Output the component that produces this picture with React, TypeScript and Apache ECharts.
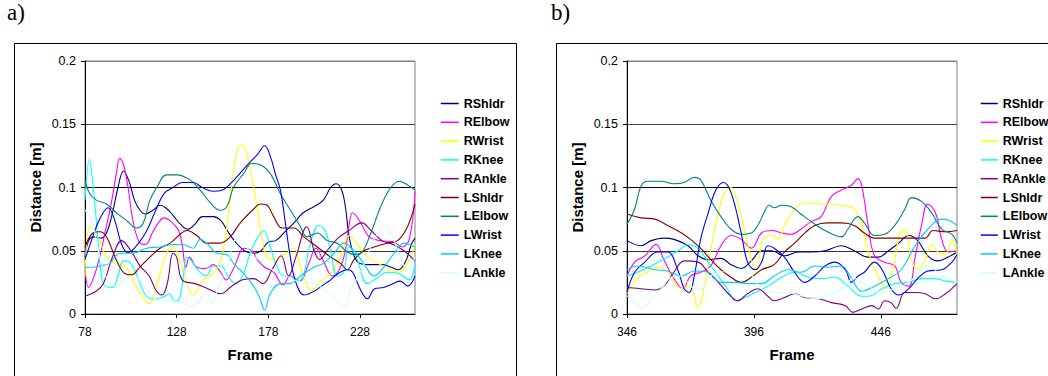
import React, { useEffect, useRef } from "react";
import * as echarts from "echarts";

// ---------- shared ----------
const SERIES_NAMES = ["RShldr", "RElbow", "RWrist", "RKnee", "RAnkle", "LShldr", "LElbow", "LWrist", "LKnee", "LAnkle"];
const SERIES_COLORS = ["#000080", "#FF00FF", "#FFFF00", "#00FFFF", "#800080", "#800000", "#008080", "#0000FF", "#00CCFF", "#CCFFFF"];
const Y_MIN = 0;
const Y_MAX = 0.2;
const Y_STEP = 0.05;
const X_STEP = 50;
const A_FRAME_MIN = 78;
const A_FRAME_MAX = 258;
const B_FRAME_MIN = 346;
const B_FRAME_MAX = 476;

// ---------- panel a) [frame, distance] ----------
const A_RSHLDR = [[78,0.045],[80,0.058],[83,0.061],[87,0.06],[90,0.065],[93,0.08],[96,0.1],[99,0.113],[102,0.105],[105,0.09],[108,0.082],[111,0.079],[115,0.082],[119,0.086],[122,0.084],[126,0.078],[130,0.071],[134,0.067],[138,0.071],[142,0.077],[148,0.077],[152,0.074],[156,0.065],[160,0.057],[165,0.05],[170,0.048],[174,0.05],[178,0.057],[182,0.058],[187,0.065],[192,0.072],[197,0.08],[203,0.085],[208,0.09],[212,0.1],[215,0.103],[218,0.098],[220,0.085],[222,0.062],[225,0.045],[228,0.04],[234,0.039],[240,0.039],[245,0.037],[249,0.035],[253,0.042],[256,0.055],[258,0.06]];
const A_RELBOW = [[78,0.035],[80,0.021],[83,0.03],[86,0.045],[89,0.065],[92,0.085],[95,0.11],[97,0.123],[99,0.118],[101.5,0.1],[104,0.075],[108,0.056],[111,0.055],[115,0.065],[118,0.072],[121,0.076],[125,0.073],[129,0.066],[131,0.055],[133,0.037],[135,0.045],[139,0.037],[144,0.036],[148,0.039],[152,0.033],[155,0.027],[159,0.036],[165,0.052],[169,0.05],[172,0.043],[176,0.037],[181,0.033],[186,0.023],[190,0.03],[195,0.026],[200,0.04],[204,0.052],[208,0.042],[213,0.03],[217,0.036],[220,0.05],[222,0.07],[224,0.08],[228,0.073],[233,0.061],[239,0.058],[246,0.057],[251,0.053],[255,0.06],[258,0.097]];
const A_RWRIST = [[78,0.03],[80.5,0.069],[83,0.066],[86,0.058],[89.7,0.045],[94,0.04],[99,0.039],[104,0.027],[109,0.014],[113,0.008],[117,0.022],[122.5,0.048],[126,0.053],[129.8,0.043],[133.5,0.024],[137,0.015],[142.6,0.027],[148,0.032],[153,0.048],[157,0.09],[161,0.13],[163.6,0.134],[167,0.122],[171.8,0.085],[175.5,0.053],[179,0.043],[184.6,0.045],[188,0.048],[192,0.052],[195.5,0.037],[200,0.02],[202,0.019],[206.5,0.026],[212,0.032],[217.4,0.045],[222,0.062],[226.6,0.055],[232,0.045],[239.3,0.039],[248.5,0.033],[253.9,0.04],[258,0.055]];
const A_RKNEE = [[78,0.09],[80.4,0.122],[82.5,0.1],[85,0.06],[87,0.03],[89,0.022],[93,0.021],[96,0.03],[99,0.042],[103,0.04],[107,0.028],[111,0.015],[115,0.012],[120,0.013],[124,0.016],[127,0.01],[129.5,0.012],[131.7,0.03],[133.5,0.045],[136,0.042],[140,0.034],[144,0.03],[148,0.038],[152,0.038],[156,0.03],[160,0.024],[164,0.03],[168,0.048],[172,0.06],[175.5,0.066],[179,0.053],[182.8,0.037],[186.4,0.03],[190,0.03],[194,0.026],[197,0.03],[201,0.056],[205.6,0.07],[209,0.066],[212,0.05],[215.6,0.03],[219,0.033],[222,0.053],[226,0.045],[232,0.024],[237,0.028],[243,0.033],[249,0.032],[254.8,0.027],[258,0.04]];
const A_RANKLE = [[78,0.014],[84,0.018],[88,0.024],[93,0.045],[98,0.058],[103,0.05],[108,0.038],[113,0.03],[117,0.018],[120,0.015],[123,0.025],[126,0.048],[128,0.045],[131,0.027],[138,0.024],[145,0.02],[152,0.016],[158,0.022],[164,0.027],[170,0.028],[175,0.024],[180,0.035],[185,0.046],[189,0.03],[193,0.045],[199,0.069],[203,0.05],[206,0.043],[210,0.05],[216,0.06],[222,0.066],[229,0.072],[234,0.066],[240,0.058],[246,0.055],[252,0.05],[258,0.042]];
const A_LSHLDR = [[78,0.053],[82.4,0.064],[86,0.065],[89.7,0.061],[95,0.043],[99.7,0.032],[103.4,0.031],[107.9,0.037],[113.4,0.045],[118.9,0.052],[124.4,0.056],[130.7,0.064],[133.5,0.066],[139,0.062],[144.4,0.056],[151.7,0.056],[157.2,0.061],[162.7,0.072],[170,0.083],[173.6,0.087],[177.3,0.086],[180.9,0.077],[185.5,0.068],[191.9,0.068],[197.4,0.061],[204.7,0.053],[212,0.045],[217.4,0.04],[221.1,0.035],[224.7,0.043],[230.2,0.05],[235.7,0.053],[243,0.056],[248.5,0.058],[253.9,0.069],[258,0.087]];
const A_LELBOW = [[78,0.106],[80.6,0.095],[84.2,0.09],[89.7,0.087],[95.2,0.08],[100.6,0.074],[106.1,0.068],[109.8,0.072],[113.4,0.09],[117.1,0.1],[122.5,0.11],[128,0.11],[135.3,0.106],[140.8,0.098],[148.1,0.085],[151.7,0.082],[155.4,0.085],[159,0.1],[164.5,0.111],[169.1,0.119],[173.6,0.118],[179.1,0.111],[184.6,0.095],[190.1,0.082],[195.5,0.069],[199.2,0.061],[204.7,0.064],[210.1,0.058],[215.6,0.056],[221.1,0.049],[224.7,0.047],[228.4,0.048],[233.9,0.064],[239.3,0.085],[244.8,0.1],[249.4,0.105],[253.9,0.102],[258,0.098]];
const A_LWRIST = [[78,0.043],[82,0.06],[86,0.075],[90.6,0.084],[94,0.075],[98,0.055],[101.5,0.0485],[105,0.052],[111,0.064],[116,0.08],[121,0.095],[126,0.1],[131,0.104],[137,0.104],[142,0.1],[148,0.097],[153,0.098],[158,0.104],[163,0.112],[168,0.12],[172,0.126],[176,0.133],[179,0.125],[182,0.11],[184.6,0.098],[187,0.075],[190,0.045],[193,0.025],[197.5,0.015],[203,0.018],[207,0.022],[212,0.027],[216,0.032],[221,0.035],[224,0.033],[228,0.02],[232,0.012],[236,0.02],[241,0.021],[246,0.024],[250,0.026],[254,0.022],[258,0.03]];
const A_LKNEE = [[78,0.037],[82,0.037],[86,0.038],[91.5,0.04],[97,0.048],[104,0.048],[111.6,0.052],[119,0.053],[126,0.055],[131,0.055],[137,0.052],[140.8,0.059],[144.4,0.056],[150,0.048],[155.4,0.047],[159,0.04],[164.5,0.032],[170,0.022],[173.5,0.012],[176,0.003],[179,0.016],[184.6,0.024],[190,0.024],[195.5,0.03],[202.8,0.037],[208,0.04],[213.8,0.048],[219.3,0.056],[224.7,0.05],[230,0.04],[235.7,0.03],[241,0.037],[246.6,0.048],[252,0.056],[258,0.053]];
const A_LANKLE = [[78,0.082],[81,0.077],[84,0.06],[87,0.04],[90,0.028],[95,0.022],[100,0.028],[105,0.03],[110,0.022],[115,0.013],[120,0.011],[126,0.01],[131,0.009],[136,0.006],[140,0.009],[144,0.018],[147,0.009],[151,0.022],[156,0.04],[161,0.06],[165,0.055],[170,0.046],[176,0.04],[182,0.033],[188,0.03],[194,0.026],[200,0.025],[206,0.022],[212,0.015],[216,0.01],[219,0.005],[223,0.02],[228,0.032],[233,0.05],[238,0.065],[242,0.07],[246,0.06],[250,0.045],[254,0.035],[258,0.045]];

// ---------- panel b) [frame, distance] ----------
const B_RSHLDR = [[346,0.058],[351.5,0.054],[355.5,0.058],[360.5,0.06],[364.5,0.059],[370,0.054],[374,0.046],[378,0.043],[383,0.044],[387,0.039],[391,0.036],[395,0.042],[399,0.05],[403,0.05],[408,0.046],[413.5,0.049],[418.5,0.049],[424,0.05],[430.5,0.054],[435.5,0.05],[441,0.045],[445,0.045],[449,0.05],[453,0.056],[457,0.062],[460.5,0.058],[464.5,0.046],[468.5,0.042],[472.5,0.045],[476,0.049]];
const B_RELBOW = [[346,0.03],[349,0.041],[353,0.046],[357.5,0.055],[360.5,0.043],[364.5,0.028],[368,0.02],[371,0.03],[375,0.033],[379,0.038],[383,0.054],[387,0.062],[391,0.059],[395,0.052],[399,0.064],[403,0.066],[407,0.064],[410.5,0.063],[414.5,0.067],[418.5,0.073],[422.5,0.077],[426.5,0.093],[430.5,0.098],[434.5,0.102],[437,0.107],[438.5,0.101],[441,0.07],[443.5,0.046],[447.5,0.041],[451.5,0.038],[454,0.025],[457,0.022],[459.5,0.045],[462,0.07],[464.5,0.087],[467.5,0.08],[470,0.059],[472.5,0.049],[476,0.05]];
const B_RWRIST = [[346,0.016],[350,0.028],[354,0.033],[358,0.037],[362,0.033],[364.5,0.025],[367.5,0.02],[370,0.022],[372,0.017],[374,0.0045],[376.5,0.022],[379,0.051],[382,0.08],[384.5,0.096],[387,0.1],[389.5,0.088],[392.5,0.064],[395,0.043],[397,0.033],[399.5,0.059],[403,0.062],[405.5,0.059],[408,0.07],[412,0.083],[416,0.088],[420,0.087],[425,0.087],[430.5,0.086],[435.5,0.083],[438.5,0.07],[441,0.049],[445,0.03],[448,0.02],[451,0.038],[453.5,0.064],[455.5,0.067],[458,0.043],[460.5,0.035],[463.5,0.043],[466,0.055],[468.5,0.049],[471.5,0.047],[474,0.059],[476,0.046]];
const B_RKNEE = [[346,0.03],[350,0.033],[355.5,0.038],[362,0.045],[367.5,0.052],[370,0.055],[374,0.052],[378,0.041],[382,0.03],[385.5,0.02],[389,0.0105],[392.5,0.013],[396.5,0.017],[401.5,0.022],[407,0.029],[412,0.033],[417.5,0.029],[422.5,0.028],[428,0.029],[433,0.022],[438.5,0.014],[441,0.014],[446.5,0.02],[451.5,0.024],[457,0.025],[462,0.028],[467,0.028],[471.5,0.026],[476,0.025]];
const B_RANKLE = [[346,0.021],[351.5,0.02],[357,0.019],[360.5,0.022],[364.5,0.033],[368.5,0.042],[374,0.041],[378,0.033],[382,0.025],[385.5,0.017],[389.5,0.0105],[393.5,0.016],[397.5,0.02],[401.5,0.014],[404,0.0105],[408,0.013],[412,0.016],[416,0.013],[421.5,0.012],[426.5,0.009],[432,0.0066],[435,0.0013],[438.5,0.004],[442.5,0.0066],[445,0.004],[447.5,0.0105],[450,0.009],[452,0.0045],[455.5,0.017],[459.5,0.017],[463.5,0.016],[467.5,0.012],[471.5,0.016],[476,0.024]];
const B_LSHLDR = [[346,0.079],[351.5,0.076],[357,0.075],[362,0.07],[367.5,0.064],[371,0.059],[375,0.052],[379,0.043],[383,0.035],[387,0.029],[391,0.025],[395,0.029],[399,0.035],[404,0.039],[408,0.049],[412,0.056],[416,0.064],[420,0.07],[425,0.072],[430.5,0.072],[435.5,0.07],[439.5,0.064],[443.5,0.06],[447.5,0.06],[453,0.06],[458,0.06],[463.5,0.06],[466.5,0.066],[471.5,0.065],[476,0.066]];
const B_LELBOW = [[346,0.071],[349,0.083],[351.5,0.101],[354,0.105],[359.5,0.105],[364.5,0.103],[368.5,0.104],[372.5,0.108],[375,0.106],[379,0.09],[383,0.077],[387,0.067],[391,0.063],[395,0.064],[397.5,0.07],[400,0.08],[402,0.086],[404,0.084],[407,0.086],[410.5,0.085],[414.5,0.079],[420,0.071],[424,0.066],[430.5,0.061],[433,0.067],[437,0.077],[439.5,0.072],[443.5,0.062],[447.5,0.063],[451.5,0.07],[455.5,0.083],[458,0.092],[462,0.089],[466,0.08],[470,0.067],[474,0.063],[476,0.056]];
const B_LWRIST = [[346,0.017],[349,0.033],[353,0.041],[358,0.049],[362,0.049],[366,0.035],[368.5,0.02],[370.5,0.017],[372.5,0.03],[375,0.059],[378,0.08],[381,0.098],[384,0.104],[387,0.096],[391,0.064],[393.5,0.041],[396.5,0.035],[399,0.041],[401.5,0.054],[404,0.052],[408,0.045],[412,0.033],[416,0.025],[420,0.03],[424,0.038],[428,0.041],[432,0.035],[434.5,0.025],[437,0.03],[439.5,0.033],[443.5,0.041],[446.5,0.035],[450,0.02],[453,0.015],[457,0.02],[460.5,0.028],[464.5,0.034],[470,0.035],[474,0.041],[476,0.047]];
const B_LKNEE = [[346,0.035],[350,0.038],[357,0.035],[362,0.034],[367.5,0.03],[372.5,0.034],[378,0.033],[383,0.025],[388.5,0.025],[393.5,0.024],[399,0.024],[404,0.03],[409.5,0.035],[414.5,0.033],[420,0.038],[425,0.037],[430.5,0.038],[434.5,0.028],[438.5,0.018],[443.5,0.022],[449,0.028],[454,0.035],[459.5,0.054],[464.5,0.067],[470,0.075],[473,0.074],[476,0.07]];
const B_LANKLE = [[346,0.0145],[349,0.009],[352,0.0045],[355.5,0.012],[359.5,0.02],[363.5,0.029],[367.5,0.03],[371,0.022],[375,0.02],[379,0.03],[383,0.033],[388.5,0.034],[393.5,0.033],[399,0.02],[404,0.017],[409.5,0.017],[414.5,0.0145],[420,0.012],[425,0.0145],[430.5,0.02],[435.5,0.028],[441,0.022],[446.5,0.017],[451.5,0.02],[457,0.025],[462,0.035],[464.5,0.038],[468.5,0.033],[472.5,0.028],[476,0.025]];

const PANEL_A = [A_RSHLDR, A_RELBOW, A_RWRIST, A_RKNEE, A_RANKLE, A_LSHLDR, A_LELBOW, A_LWRIST, A_LKNEE, A_LANKLE];
const PANEL_B = [B_RSHLDR, B_RELBOW, B_RWRIST, B_RKNEE, B_RANKLE, B_LSHLDR, B_LELBOW, B_LWRIST, B_LKNEE, B_LANKLE];

const SANS = "'Liberation Sans', Arial, sans-serif";

function makeXAxis(gridIndex: number, min: number, max: number) {
  return {
    type: "value",
    gridIndex,
    min,
    max,
    interval: X_STEP,
    name: "Frame",
    nameLocation: "middle",
    nameGap: 33,
    nameTextStyle: { fontFamily: SANS, fontWeight: "bold", fontSize: 15, color: "#000" },
    axisLine: { show: true, onZero: false, lineStyle: { color: "#000", width: 1 } },
    axisTick: { show: true, inside: false, length: 4, lineStyle: { color: "#000" } },
    axisLabel: { show: true, margin: 12, fontFamily: SANS, fontSize: 12, color: "#000", showMaxLabel: false },
    splitLine: { show: false },
  };
}

function makeYAxis(gridIndex: number) {
  return {
    type: "value",
    gridIndex,
    min: Y_MIN,
    max: Y_MAX,
    interval: Y_STEP,
    name: "Distance [m]",
    nameLocation: "middle",
    nameGap: 42,
    nameRotate: 90,
    nameTextStyle: { fontFamily: SANS, fontWeight: "bold", fontSize: 15, color: "#000" },
    axisLine: { show: true, lineStyle: { color: "#000", width: 1 } },
    axisTick: { show: true, inside: false, length: 4, lineStyle: { color: "#000" } },
    axisLabel: { show: true, margin: 9, fontFamily: SANS, fontSize: 12.5, color: "#000" },
    splitLine: { show: true, lineStyle: { color: ["#000", "#333", "#000", "#444", "#808080"], width: 1 } },
  };
}

function makeLegend(left: number) {
  return {
    show: true,
    orient: "vertical",
    left,
    top: 96.5,
    itemWidth: 18,
    itemHeight: 14,
    itemGap: 4.8,
    selectedMode: false,
    padding: 0,
    data: SERIES_NAMES,
    itemStyle: { opacity: 0, borderWidth: 0 },
    lineStyle: { width: 1.5 },
    textStyle: { fontFamily: SANS, fontWeight: "bold", fontSize: 12.5, color: "#000", lineHeight: 14 },
  };
}

export default function App() {
  const ref = useRef<HTMLDivElement>(null);

  useEffect(() => {
    document.body.style.margin = "0";
    if (!ref.current) return;
    const chart = echarts.init(ref.current, undefined, { renderer: "svg", width: 1048, height: 376 });

    const series: any[] = [];
    [PANEL_A, PANEL_B].forEach((panel, pi) => {
      panel.forEach((data, i) => {
        series.push({
          type: "line",
          name: SERIES_NAMES[i],
          xAxisIndex: pi,
          yAxisIndex: pi,
          data,
          smooth: 0.4,
          symbol: "none",
          clip: true,
          color: SERIES_COLORS[i],
          lineStyle: { color: SERIES_COLORS[i], width: 1.1 },
          emphasis: { disabled: true },
        });
      });
    });

    chart.setOption({
      animation: false,
      backgroundColor: "#fff",
      grid: [
        { left: 85, top: 61, width: 330, height: 253, show: true, borderColor: "#808080", borderWidth: 1, backgroundColor: "transparent" },
        { left: 627, top: 61, width: 330, height: 253, show: true, borderColor: "#808080", borderWidth: 1, backgroundColor: "transparent" },
      ],
      xAxis: [makeXAxis(0, A_FRAME_MIN, A_FRAME_MAX), makeXAxis(1, B_FRAME_MIN, B_FRAME_MAX)],
      yAxis: [makeYAxis(0), makeYAxis(1)],
      legend: [makeLegend(440), { ...makeLegend(980), itemWidth: 17 }],
      tooltip: { show: false },
      series,
      graphic: [
        {
          type: "rect",
          silent: true,
          z: -10,
          shape: { x: 14.5, y: 43.5, width: 502, height: 345 },
          style: { fill: "none", stroke: "#000", lineWidth: 1 },
        },
        {
          type: "rect",
          silent: true,
          z: -10,
          shape: { x: 556.5, y: 43.5, width: 520, height: 345 },
          style: { fill: "none", stroke: "#000", lineWidth: 1 },
        },
        {
          type: "text",
          left: 7,
          top: 1,
          style: { text: "a)", font: "23px 'Liberation Serif', 'Times New Roman', serif", fill: "#000" },
        },
        {
          type: "text",
          left: 551,
          top: 1,
          style: { text: "b)", font: "23px 'Liberation Serif', 'Times New Roman', serif", fill: "#000" },
        },
      ],
    });

    return () => {
      chart.dispose();
    };
  }, []);

  return (
    <div
      ref={ref}
      style={{ position: "relative", width: 1048, height: 376, background: "#fff", overflow: "hidden" }}
    />
  );
}
